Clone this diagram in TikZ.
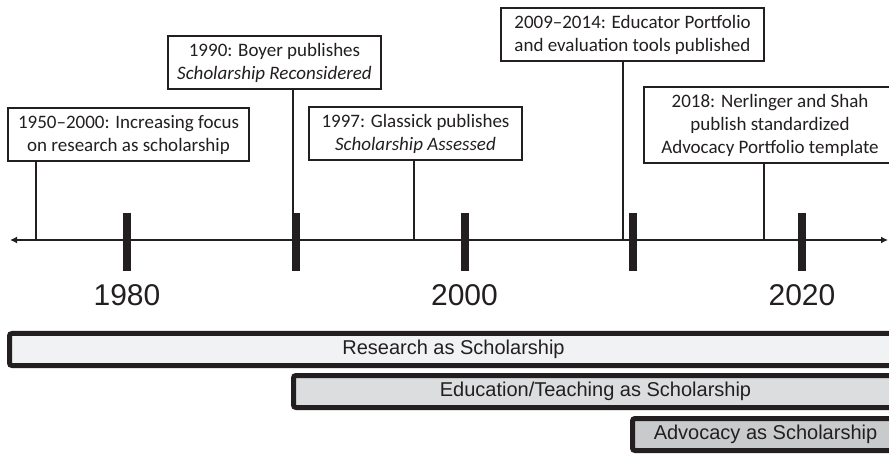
\documentclass[tikz,border=0pt]{standalone}
\usepackage{fontspec}
\setmainfont{Carlito}
\newfontfamily\arialfont{Liberation Sans}
\usetikzlibrary{arrows.meta}
\definecolor{ink}{HTML}{231F20}
\definecolor{barA}{HTML}{F1F2F3}
\definecolor{barB}{HTML}{DCDDDE}
\definecolor{barC}{HTML}{C9CACC}

\begin{document}
\begin{tikzpicture}
[   x=1pt,y=-1pt,
    event/.style={draw=ink,line width=2pt,fill=white,align=center,inner sep=0pt,minimum height=53pt,text=ink,font=\fontsize{19}{23}\selectfont},
    era/.style={draw=ink,line width=5pt,rounded corners=2.5pt,minimum height=32pt,inner sep=0pt,text=ink,font=\arialfont\fontsize{20}{24}\selectfont},
    stem/.style={draw=ink,line width=2pt},
    yearlabel/.style={text=ink,font=\arialfont\fontsize{30}{36}\selectfont}
]
    \useasboundingbox (0,0) rectangle (889,454);
    % events
    \node[event,minimum width=241pt] (B1) at (128.5,134.5) {1950--2000: Increasing focus\\on research as scholarship};
    \node[event,minimum width=213pt] (B2) at (274.5,62.5) {1990: Boyer publishes\\\textit{Scholarship Reconsidered}};
    \node[event,minimum width=213pt] (B3) at (415.5,134) {1997: Glassick publishes\\\textit{Scholarship Assessed}};
    \node[event,minimum width=263pt] (B4) at (632.5,34.5) {2009--2014: Educator Portfolio\\and evaluation tools published};
    \node[event,minimum width=252pt,minimum height=76pt] (B5) at (770,125) {2018: Nerlinger and Shah\\publish standardized\\Advocacy Portfolio template};
    \coordinate (e1) at (36,240);
    \coordinate (e2) at (293,240);
    \coordinate (e3) at (414,240);
    \coordinate (e4) at (623,240);
    \coordinate (e5) at (764,240);
    \foreach \i in {1,...,5}
        \draw[stem] (B\i.south -| e\i) -- (e\i);
    % time axis
    \coordinate (west) at (10,240);
    \coordinate (east) at (888,240);
    \draw[ink,line width=2.5pt,{Latex[length=7pt,width=7pt]}-{Latex[length=7pt,width=7pt]}] (west) -- (east);
    \foreach \yr in {1980,1990,...,2020}
        \draw[ink,line width=8pt] ({127+(\yr-1980)*16.875},213) -- ({127+(\yr-1980)*16.875},271);
    \foreach \yr in {1980,2000,2020}
        \node[yearlabel] (y\yr) at ({127+(\yr-1980)*16.875},295) {\yr};
    % eras
    \node[era,fill=barA,minimum width=888pt] (research) at (453.5,349.5) {Research as Scholarship};
    \node[era,fill=barB,minimum width=604pt] (teaching) at (595.5,391.5) {Education/Teaching as Scholarship};
    \node[era,fill=barC,minimum width=266pt] (advocacy) at (765.5,434.5) {Advocacy as Scholarship};
\end{tikzpicture}
\end{document}
